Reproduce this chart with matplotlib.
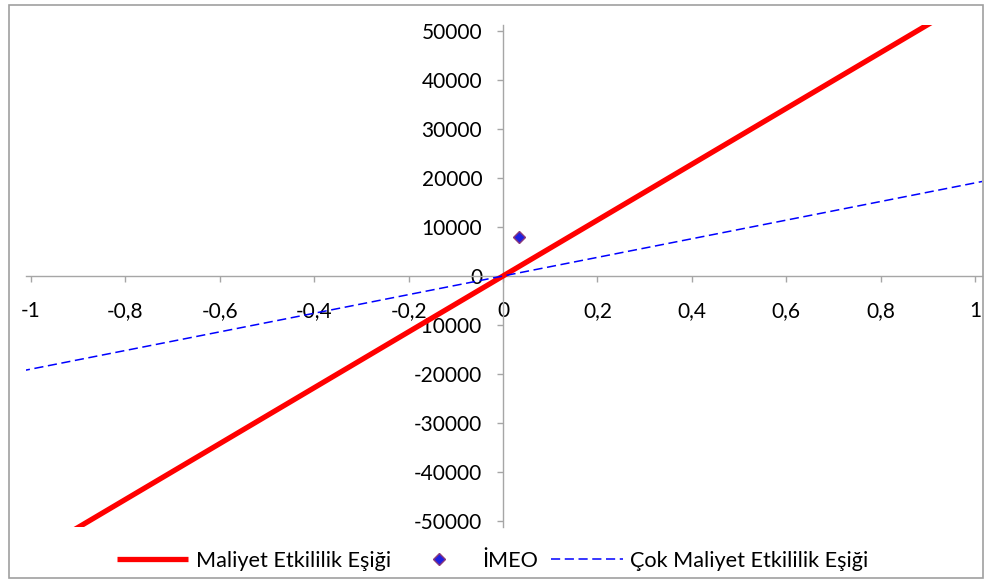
import matplotlib.pyplot as plt
import matplotlib.patches as patches
import numpy as np

plt.rcParams['font.family'] = ['Lato', 'DejaVu Sans']

# threshold lines (slope = cost per unit effect) and the IMEO point
x_line = [-1.05, 1.05]
esik_slope = 57000       # Maliyet Etkililik Eşiği
cok_esik_slope = 19000   # Çok Maliyet Etkililik Eşiği
imeo_x = [0.034]
imeo_y = [7900]

x_ticks = [-1, -0.8, -0.6, -0.4, -0.2, 0, 0.2, 0.4, 0.6, 0.8, 1]
x_tick_labels = ['-1', '-0,8', '-0,6', '-0,4', '-0,2', '0', '0,2', '0,4', '0,6', '0,8', '1']
y_ticks = [-50000, -40000, -30000, -20000, -10000, 0, 10000, 20000, 30000, 40000, 50000]

W, H = 985, 581
fig = plt.figure(figsize=(W / 100, H / 100), dpi=100)
ax = fig.add_axes([26 / W, (H - 527) / H, 956 / W, 502 / H])

y_red = [esik_slope * v for v in x_line]
y_blue = [cok_esik_slope * v for v in x_line]
ax.plot(x_line, y_red, color='#FF0000', linewidth=3.8, solid_capstyle='butt',
        label='Maliyet Etkililik Eşiği', zorder=3)
ax.plot(imeo_x, imeo_y, linestyle='none', marker='D', markersize=6.5,
        markerfacecolor='#1F1FE0', markeredgecolor='#8B3A7A', markeredgewidth=1,
        label='İMEO', zorder=4)
ax.plot(x_line, y_blue, color='#0000FF', linewidth=1.1, linestyle=(0, (6, 3)),
        label='Çok Maliyet Etkililik Eşiği', zorder=3)

ax.set_xlim(-1.0106, 1.0148)
ax.set_ylim(-51224, 51224)

for side in ['top', 'right']:
    ax.spines[side].set_visible(False)
ax.spines['left'].set_position(('data', 0))
ax.spines['bottom'].set_position(('data', 0))
for side in ['left', 'bottom']:
    ax.spines[side].set_color('#A6A6A6')
    ax.spines[side].set_linewidth(1)

ax.set_xticks(x_ticks)
ax.set_xticklabels(x_tick_labels)
ax.set_yticks(y_ticks)
ax.set_yticklabels([str(v) for v in y_ticks])
ax.tick_params(axis='both', colors='#A6A6A6', labelcolor='black', labelsize=15,
               length=4, width=1, direction='out')
ax.tick_params(axis='x', pad=14)
ax.tick_params(axis='y', pad=11)

fig.legend(loc='center', bbox_to_anchor=(0.5, (H - 561) / H), ncol=3, frameon=False,
           fontsize=15.6, handlelength=3.3, handletextpad=0.33, columnspacing=0.6)

fig.patches.append(patches.Rectangle((9 / W, 3 / H), 974 / W, 573 / H,
                                     transform=fig.transFigure, fill=False,
                                     edgecolor='#A0A0A0', linewidth=1.2))

fig.savefig('out.png', dpi=100)
